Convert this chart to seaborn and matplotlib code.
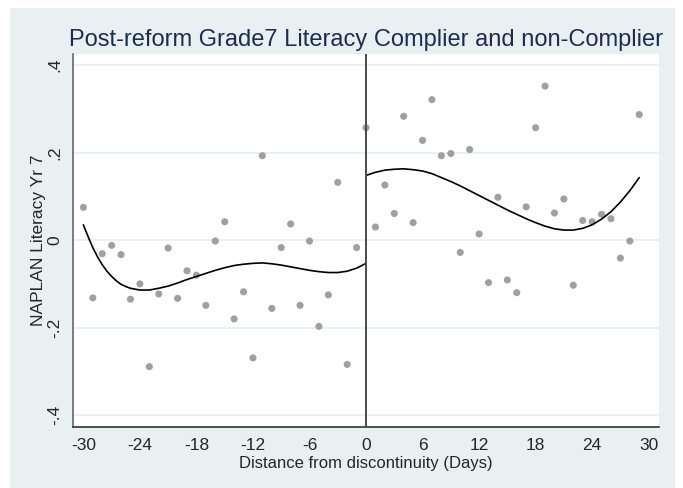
import pandas as pd
import matplotlib
matplotlib.use("Agg")
import matplotlib.pyplot as plt
import seaborn as sns

# Binned means, left of the cutoff (days -30..-1)
left_days = list(range(-30, 0))
left_vals = [0.075, -0.132, -0.031, -0.012, -0.033, -0.135, -0.100, -0.289, -0.123, -0.018,
             -0.133, -0.070, -0.080, -0.149, -0.002, 0.042, -0.180, -0.118, -0.269, 0.193,
             -0.156, -0.017, 0.037, -0.149, -0.002, -0.197, -0.125, 0.132, -0.284, -0.017]

# Binned means, right of the cutoff (days 0..29)
right_days = list(range(0, 30))
right_vals = [0.257, 0.030, 0.126, 0.061, 0.283, 0.040, 0.228, 0.321, 0.193, 0.198,
              -0.028, 0.207, 0.014, -0.097, 0.098, -0.091, -0.120, 0.076, 0.257, 0.352,
              0.062, 0.094, -0.103, 0.045, 0.042, 0.059, 0.049, -0.041, -0.002, 0.287]

# Fitted curves
fit_left_x = [-30, -29.5, -29, -28.5, -28, -27.5, -27, -26.5, -26, -25.5, -25, -24,
              -23, -22, -21, -20, -19, -18, -17, -16, -15, -14, -13, -12, -11,
              -10, -9, -8, -7, -6, -5, -4, -3, -2, -1, 0]
fit_left_y = [0.035, 0.008, -0.017, -0.038, -0.056, -0.071, -0.083, -0.093, -0.101, -0.106,
              -0.110, -0.114, -0.114, -0.110, -0.105, -0.098, -0.090, -0.083, -0.076, -0.069,
              -0.063, -0.058, -0.055, -0.053, -0.052, -0.054, -0.057, -0.061, -0.065, -0.069,
              -0.072, -0.074, -0.074, -0.071, -0.064, -0.053]
fit_right_x = list(range(0, 30))
fit_right_y = [0.148, 0.155, 0.160, 0.162, 0.163, 0.161, 0.158, 0.152, 0.143, 0.134,
               0.124, 0.113, 0.102, 0.091, 0.080, 0.069, 0.059, 0.049, 0.040, 0.032,
               0.026, 0.023, 0.023, 0.027, 0.035, 0.048, 0.065, 0.087, 0.113, 0.143]

x_ticks = [-30, -24, -18, -12, -6, 0, 6, 12, 18, 24, 30]
y_ticks = [-0.4, -0.2, 0, 0.2, 0.4]
y_ticklabels = ["-.4", "-.2", "0", ".2", ".4"]

df = pd.DataFrame({"day": left_days + right_days, "score": left_vals + right_vals})
fit_left = pd.DataFrame({"day": fit_left_x, "score": fit_left_y})
fit_right = pd.DataFrame({"day": fit_right_x, "score": fit_right_y})

sns.set_style("white")
plt.rcParams["font.family"] = ["Liberation Sans", "DejaVu Sans"]

fig = plt.figure(figsize=(6.83, 4.88), dpi=100)
fig.patch.set_facecolor("white")
# Stata-like graph region
bg = plt.Rectangle((10 / 683, 0), 665 / 683, 480 / 488, transform=fig.transFigure,
                   facecolor="#e8f0f2", edgecolor="none", zorder=-10)
fig.patches.append(bg)

ax = fig.add_axes([0.1069, 0.125, 0.858, 0.764])
ax.set_facecolor("white")

for y in y_ticks:
    ax.axhline(y, color="#e6eef1", lw=1.2, zorder=0)

sns.scatterplot(data=df, x="day", y="score", color="#a0a0a0", s=26, edgecolor="none",
                ax=ax, zorder=3)
sns.lineplot(data=fit_left, x="day", y="score", color="black", lw=1.2, sort=False,
             ax=ax, zorder=4)
sns.lineplot(data=fit_right, x="day", y="score", color="black", lw=1.2, sort=False,
             ax=ax, zorder=4)
ax.axvline(0, color="#4a4a4a", lw=1.4, zorder=5)

ax.set_xlim(-31.1, 31.1)
ax.set_ylim(-0.427, 0.425)
ax.set_xticks(x_ticks)
ax.set_xticklabels([str(t) for t in x_ticks], fontsize=12.5)
ax.set_yticks(y_ticks)
ax.set_yticklabels(y_ticklabels, fontsize=12.5, rotation=90, va="center")
ax.tick_params(axis="both", direction="out", length=5, width=1, color="#555555", pad=3)

for side in ["top", "right"]:
    ax.spines[side].set_visible(False)
ax.spines["left"].set_color("#666666")
ax.spines["bottom"].set_color("#333333")
ax.spines["left"].set_linewidth(1.2)
ax.spines["bottom"].set_linewidth(1.2)

ax.set_xlabel("Distance from discontinuity (Days)", fontsize=12, labelpad=2)
ax.set_ylabel("NAPLAN Literacy Yr 7", fontsize=12.5, labelpad=1)
ax.set_title("Post-reform Grade7 Literacy Complier and non-Complier", fontsize=17,
             color="#1c2c55", pad=6)

plt.savefig("out.png", dpi=100)
